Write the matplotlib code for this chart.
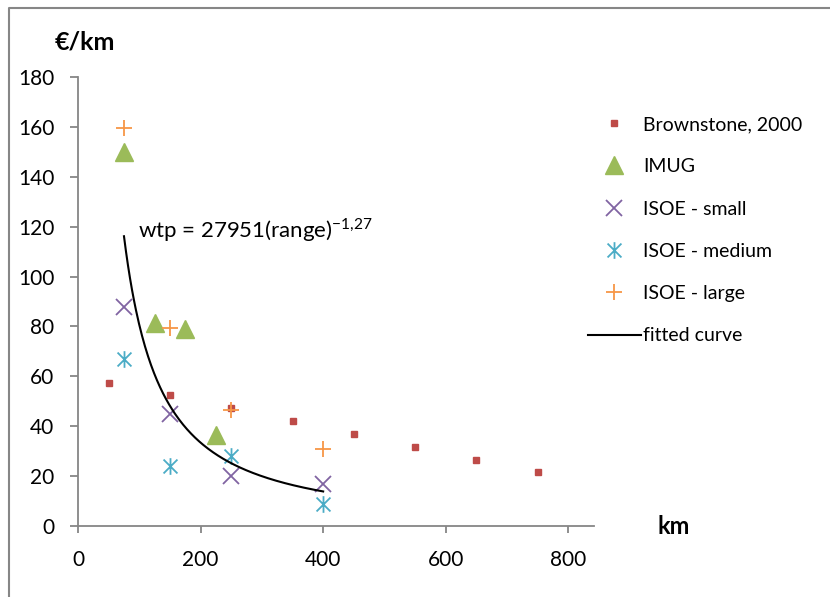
import matplotlib
matplotlib.use("Agg")
import matplotlib.pyplot as plt
from matplotlib.lines import Line2D
from matplotlib.path import Path
import numpy as np

plt.rcParams['font.family'] = ['Lato', 'DejaVu Sans']

# data
brown_x = [50, 150, 250, 350, 450, 550, 650, 750]
brown_y = [57.5, 52.5, 47.5, 42, 37, 31.5, 26.5, 21.5]

imug_x = [75, 125, 175, 225]
imug_y = [150, 81.5, 79, 36.5]

small_x = [75, 150, 250, 400]
small_y = [88, 45, 20, 17]

medium_x = [75, 150, 250, 400]
medium_y = [67, 24, 28, 9]

large_x = [75, 150, 250, 400]
large_y = [159.5, 79.5, 46.5, 31]

# fitted curve wtp = a * range^b
fit_a = 27951
fit_b = -1.27
fit_start, fit_end = 75, 400

grey = '#868686'

# excel style asterisk: an X with a vertical bar
star = Path([(-1, -1), (1, 1), (-1, 1), (1, -1), (0, -1.2), (0, 1.2)],
            [Path.MOVETO, Path.LINETO, Path.MOVETO, Path.LINETO,
             Path.MOVETO, Path.LINETO])

fig = plt.figure(figsize=(8.3, 5.97), dpi=100)
ax = fig.add_axes([0.094, 0.1189, 0.6217, 0.7521])

ax.plot(brown_x, brown_y, ls='none', marker='s', ms=5, color='#BE4B48',
        label='Brownstone, 2000')
ax.plot(imug_x, imug_y, ls='none', marker='^', ms=13.5, color='#9BBB59',
        label='IMUG')
ax.plot(small_x, small_y, ls='none', marker='x', ms=11, mew=1.3,
        color='#8064A2', label='ISOE - small')
ax.plot(medium_x, medium_y, ls='none', marker=star, ms=12, mew=1.3,
        color='#4BACC6', label='ISOE - medium')
ax.plot(large_x, large_y, ls='none', marker='+', ms=12, mew=1.3,
        color='#F79646', label='ISOE - large')

xs = np.linspace(fit_start, fit_end, 200)
ax.plot(xs, fit_a * xs ** fit_b, color='black', lw=1.5, label='fitted curve')

ax.text(98, 118.5, r'wtp = 27951(range)$^{\mathregular{-1{,}27}}$',
        fontsize=16, va='center', ha='left')

ax.set_xlim(0, 842)
ax.set_ylim(0, 180)
ax.set_xticks([0, 200, 400, 600, 800])
ax.set_yticks(range(0, 181, 20))

for s in ['top', 'right']:
    ax.spines[s].set_visible(False)
for s in ['left', 'bottom']:
    ax.spines[s].set_color(grey)
    ax.spines[s].set_linewidth(1.3)
ax.tick_params(axis='y', length=6, width=1.3, color=grey, pad=11, labelsize=15)
ax.tick_params(axis='x', length=5, width=1.3, color=grey, pad=12, labelsize=15)
ax.spines['left'].set_zorder(0)

fig.text(55 / 830, 1 - 42 / 597, '€/km', fontsize=18, fontweight='bold',
         va='center', ha='left')
fig.text(657 / 830, 1 - 526 / 597, 'km', fontsize=17, fontweight='bold',
         va='center', ha='left')

leg = fig.legend(loc='upper left', bbox_to_anchor=(588 / 830, 1 - 116 / 597),
                 frameon=False, fontsize=14, handlelength=2.7,
                 handletextpad=0.15, labelspacing=1.3, borderaxespad=0,
                 borderpad=0)

# outer frame of the chart area
fig.add_artist(Line2D([9 / 830, 9 / 830, 1.0], [0.0, 1 - 8 / 597, 1 - 8 / 597],
                      transform=fig.transFigure, color=grey, lw=1.5))

fig.savefig('out.png', dpi=100)
